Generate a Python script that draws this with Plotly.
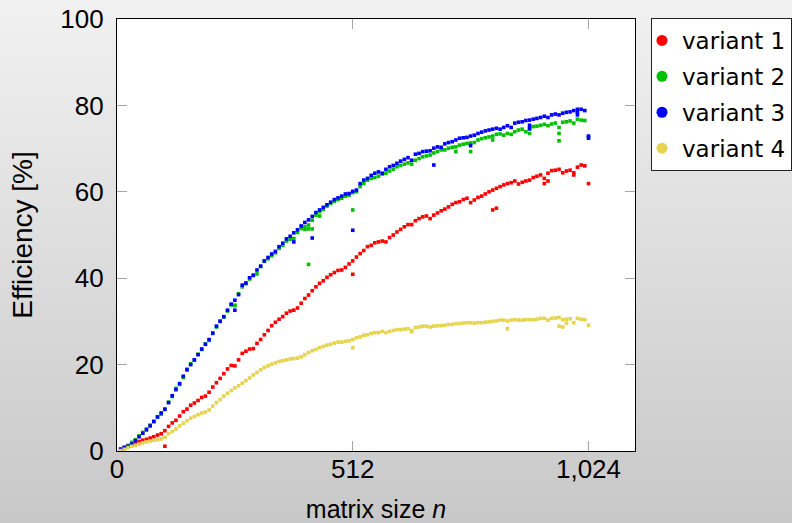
import plotly.graph_objects as go

# Matrix sizes sampled every 8 up to 1024
n = list(range(8, 1025, 8))

variant_1 = [
    0.3, 0.7, 1.1, 1.5, 1.8, 2.2, 2.5, 2.7, 3.0, 3.3,
    3.7, 4.0, 4.7, 5.7, 6.5, 7.1, 8.1, 9.1, 9.7, 10.6,
    11.1, 11.7, 12.4, 12.7, 13.6, 14.8, 15.8, 16.8, 17.9, 19.0,
    19.8, 19.7, 21.1, 22.6, 23.1, 23.6, 23.7, 24.9, 25.8, 26.9,
    27.9, 29.0, 29.8, 30.5, 31.1, 31.9, 32.4, 32.6, 33.1, 34.2,
    35.3, 36.1, 37.1, 38.0, 38.8, 39.4, 40.2, 40.8, 41.3, 41.8,
    41.9, 42.5, 43.3, 44.0, 44.9, 45.7, 46.4, 47.3, 47.6, 48.2,
    48.4, 48.6, 48.4, 49.4, 50.0, 50.7, 51.3, 51.9, 52.4, 52.4,
    53.3, 53.8, 54.2, 54.4, 53.8, 54.6, 55.1, 55.6, 56.0, 56.5,
    57.1, 57.5, 57.7, 58.2, 58.5, 57.5, 58.1, 58.7, 59.0, 59.5,
    60.0, 60.4, 60.8, 61.2, 61.6, 61.9, 62.1, 62.5, 61.8, 62.2,
    62.5, 62.7, 63.3, 63.6, 63.9, 63.1, 64.3, 64.9, 65.0, 65.2,
    64.4, 64.8, 65.0, 64.4, 65.7, 66.2, 66.0, 61.9,
]
variant_2 = [
    0.5, 0.9, 1.3, 2.0, 2.6, 3.5, 4.3, 5.1, 6.0, 6.9,
    7.8, 8.5, 9.6, 11.3, 12.6, 14.5, 15.4, 17.0, 18.7, 20.2,
    21.0, 22.4, 23.5, 24.8, 25.6, 27.2, 28.7, 30.1, 31.0, 32.4,
    33.8, 33.7, 36.4, 38.0, 38.7, 39.8, 40.6, 41.0, 42.7, 43.9,
    44.5, 45.2, 45.9, 46.9, 47.6, 48.6, 49.0, 49.2, 50.6, 51.5,
    51.9, 52.3, 53.4, 54.6, 55.4, 55.9, 56.7, 57.3, 57.8, 58.2,
    58.5, 59.0, 59.2, 59.8, 60.0, 61.2, 61.9, 62.7, 63.1, 63.3,
    63.6, 64.1, 64.3, 64.8, 65.2, 65.8, 66.1, 66.4, 66.7, 66.4,
    67.3, 67.7, 68.1, 68.3, 68.5, 69.0, 69.3, 69.7, 69.7, 70.1,
    70.3, 70.4, 70.8, 71.0, 71.2, 71.3, 71.4, 72.0, 72.3, 72.5,
    72.7, 72.9, 73.3, 73.4, 73.1, 73.5, 73.3, 73.9, 74.3, 74.5,
    73.9, 74.6, 75.1, 75.2, 75.4, 75.6, 75.3, 75.7, 75.9, 74.9,
    76.1, 76.2, 76.4, 75.9, 76.8, 76.6, 76.5, 72.7,
]
variant_3 = [
    0.4, 0.8, 1.1, 1.6, 2.4, 3.3, 4.1, 4.9, 5.8, 6.8,
    7.9, 8.8, 9.7, 11.2, 12.8, 14.2, 15.6, 17.3, 18.9, 20.0,
    21.1, 22.3, 23.6, 24.7, 25.8, 27.3, 28.9, 30.0, 31.1, 32.6,
    34.0, 34.9, 36.2, 38.4, 38.9, 40.1, 40.7, 41.9, 42.8, 44.0,
    44.8, 45.6, 46.2, 47.3, 48.1, 49.1, 49.7, 50.5, 51.2, 52.1,
    52.9, 53.5, 54.3, 55.2, 55.8, 56.4, 57.0, 57.6, 58.2, 58.6,
    59.0, 59.5, 59.6, 60.1, 60.4, 61.9, 62.7, 63.1, 63.8, 64.3,
    64.6, 64.3, 65.2, 65.8, 66.1, 66.6, 67.1, 67.5, 67.9, 67.3,
    68.7, 68.9, 69.3, 69.4, 69.5, 70.1, 70.4, 70.3, 71.1, 71.4,
    71.6, 72.0, 72.4, 72.5, 72.6, 72.9, 73.1, 73.5, 73.8, 74.1,
    74.3, 74.5, 74.7, 74.5, 74.9, 75.3, 74.9, 75.9, 76.1, 76.2,
    76.5, 76.6, 76.8, 77.0, 77.2, 77.5, 77.2, 77.8, 78.0, 77.8,
    78.2, 78.4, 78.5, 78.8, 79.1, 79.1, 78.8, 72.4,
]
variant_4 = [
    0.1, 0.4, 0.8, 1.1, 1.3, 1.6, 1.9, 2.1, 2.3, 2.5,
    2.6, 2.8, 3.2, 4.0, 4.5, 5.1, 5.8, 6.4, 7.0, 7.6,
    8.0, 8.4, 8.8, 9.0, 9.5, 10.4, 11.2, 11.9, 12.7, 13.4,
    14.0, 14.6, 15.1, 15.7, 16.3, 16.9, 17.6, 18.2, 18.8, 19.3,
    19.7, 20.1, 20.4, 20.7, 20.9, 21.1, 21.3, 21.4, 21.5, 21.8,
    22.3, 22.8, 23.2, 23.5, 23.9, 24.2, 24.5, 24.7, 25.0, 25.2,
    25.2, 25.4, 25.5, 25.8, 26.2, 26.4, 26.8, 26.9, 27.2, 27.4,
    27.4, 27.7, 27.4, 27.7, 27.9, 28.1, 28.1, 28.2, 28.3, 27.9,
    28.6, 28.7, 28.9, 28.9, 28.7, 28.9, 29.0, 29.0, 29.1, 29.3,
    29.3, 29.5, 29.5, 29.6, 29.7, 29.7, 29.6, 29.7, 29.7, 29.8,
    29.9, 30.0, 30.1, 30.3, 30.3, 30.1, 30.3, 30.4, 30.3, 30.3,
    30.4, 30.4, 30.4, 30.5, 30.7, 30.7, 30.3, 30.7, 30.8, 30.9,
    30.4, 30.5, 30.6, 29.7, 30.7, 30.5, 30.4, 29.1,
]

# Repeated runs that landed away from the main trend
extra_n_1 = [104, 512, 816, 824, 928, 936, 992]
extra_1 = [1.1, 40.9, 55.8, 56.2, 61.9, 62.5, 63.9]
extra_n_2 = [256, 408, 416, 416, 424, 440, 512, 736, 768, 816, 896, 960, 960]
extra_2 = [33.7, 51.3, 43.2, 51.4, 51.4, 54.4, 55.8, 69.3, 69.3, 72.0, 73.5, 73.5, 71.8]
extra_n_3 = [256, 384, 424, 512, 688, 768, 896, 896, 1000, 1000, 1024]
extra_3 = [32.6, 48.4, 49.3, 51.1, 66.2, 70.7, 75.4, 74.6, 77.8, 78.4, 72.9]
extra_n_4 = [512, 640, 848, 960, 968, 976]
extra_4 = [23.9, 27.6, 28.3, 28.9, 28.7, 29.6]

names = ["variant 1", "variant 2", "variant 3", "variant 4"]
colors = ["#ff0000", "#00c000", "#0000ff", "#e6d350"]
series = [
    (variant_1, extra_n_1, extra_1),
    (variant_2, extra_n_2, extra_2),
    (variant_3, extra_n_3, extra_3),
    (variant_4, extra_n_4, extra_4),
]

W, H = 792, 523
L, R, T, B = 117, 157, 19, 72
plot_w = W - L - R
plot_h = H - T - B

fig = go.Figure()

for name, color, (vals, en, ev) in zip(names, colors, series):
    fig.add_trace(go.Scatter(
        x=n + en, y=vals + ev, mode="markers", name=name,
        marker=dict(symbol="square", size=3.6, color=color, line=dict(width=0)),
        showlegend=False, hoverinfo="skip",
    ))

# Legend entries with round swatches
for name, color in zip(names, colors):
    fig.add_trace(go.Scatter(
        x=[None], y=[None], mode="markers", name=name, legendgroup=name,
        marker=dict(symbol="circle", size=11, color=color, line=dict(width=0)),
    ))

# Vertical grey gradient behind the whole figure
shapes = []
N = 131
for i in range(N):
    p0 = i * H / N
    p1 = (i + 1) * H / N + 1
    t = (i + 0.5) / N
    c = round(241 + (200 - 241) * t)
    shapes.append(dict(
        type="rect", xref="paper", yref="paper", layer="below",
        x0=-L / plot_w, x1=(W - L) / plot_w,
        y0=(H - B - p1) / plot_h, y1=(H - B - p0) / plot_h,
        fillcolor=f"rgb({c},{c},{c})", line=dict(width=0),
    ))
shapes.append(dict(
    type="rect", xref="paper", yref="paper", layer="below",
    x0=0, x1=1, y0=0, y1=1, fillcolor="white", line=dict(width=0),
))

tick_font = dict(family="Liberation Sans, Arial, sans-serif", size=26, color="black")
axis_common = dict(
    showgrid=False, zeroline=False, showline=True, linecolor="black", linewidth=1.3,
    mirror="ticks", ticks="inside", ticklen=10, tickwidth=1, tickcolor="#a6a6a6",
    tickfont=tick_font,
)

fig.update_layout(
    width=W, height=H,
    margin=dict(l=L, r=R, t=T, b=B, autoexpand=False),
    paper_bgcolor="rgb(220,220,220)", plot_bgcolor="white",
    shapes=shapes,
    xaxis=dict(
        range=[0, 1125], tickvals=[0, 512, 1024], ticktext=["0", "512", "1,024"],
        title=dict(text="matrix size <i>n</i>", standoff=22,
                   font=dict(family="Liberation Sans, Arial, sans-serif", size=25, color="black")),
        ticklabelstandoff=-5,
        **axis_common,
    ),
    yaxis=dict(
        range=[0, 100], tickvals=[0, 20, 40, 60, 80, 100],
        title=dict(text="Efficiency [%]", standoff=19,
                   font=dict(family="Liberation Sans, Arial, sans-serif", size=28, color="black")),
        ticklabelstandoff=7,
        **axis_common,
    ),
    legend=dict(
        x=(651 - L) / plot_w, xanchor="left",
        y=(H - B - 18) / plot_h, yanchor="top",
        bgcolor="white", bordercolor="#222222", borderwidth=1,
        font=dict(family="DejaVu Sans, sans-serif", size=23, color="black"),
        tracegroupgap=3, indentation=-10,
    ),
    showlegend=True,
)

fig.write_html("out.html")
